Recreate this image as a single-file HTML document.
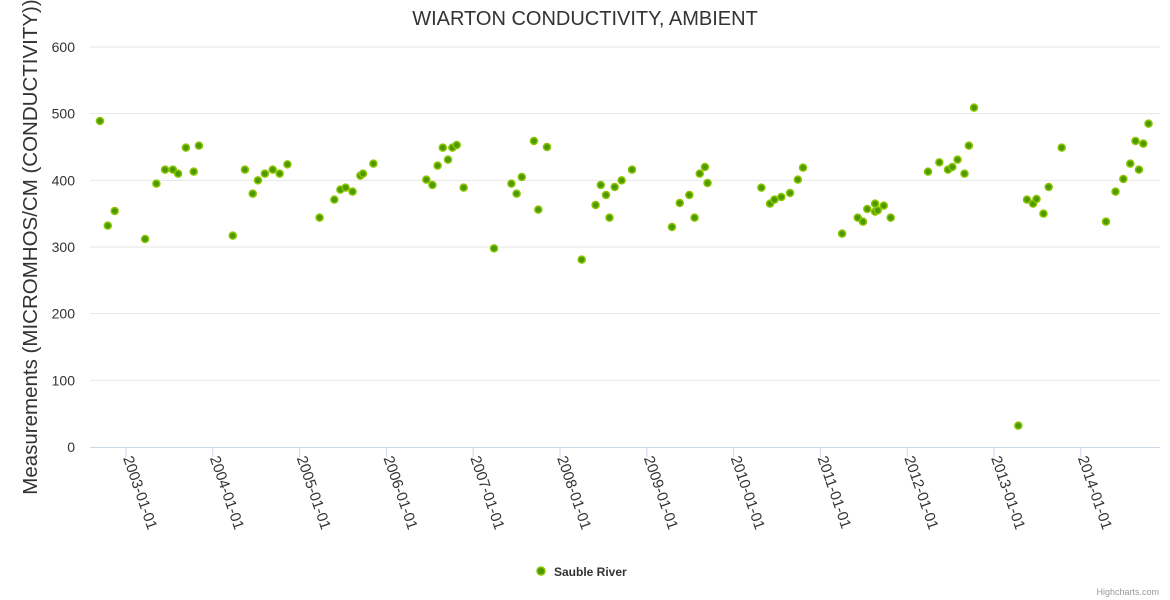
<!DOCTYPE html>
<html><head><meta charset="utf-8"><style>
body{margin:0;background:#fff;}
svg{display:block;font-family:"Liberation Sans",sans-serif;}
</style></head><body>
<svg id="chart" width="1170" height="600">
<rect width="1170" height="600" fill="#fff"/>
<text x="585" y="25" text-anchor="middle" font-size="20" fill="#333">WIARTON CONDUCTIVITY, AMBIENT</text>
<g id="grid"></g>
<g id="xaxis"></g>
<g id="yaxis"></g>
<text transform="translate(37,247) rotate(-90)" text-anchor="middle" font-size="20.5" fill="#333">Measurements (MICROMHOS/CM (CONDUCTIVITY))</text>
<g id="points"></g>
<g>
<circle cx="541" cy="571" r="4" fill="#4c9a00" stroke="#8cc400" stroke-width="1.5"/>
<text x="554" y="576" font-size="12" font-weight="bold" fill="#333">Sauble River</text>
</g>
<text x="1159" y="595" text-anchor="end" font-size="9" fill="#999">Highcharts.com</text>
</svg>
<script>
const yTicks=[0,100,200,300,400,500,600];
const xTickLabels=["2003-01-01","2004-01-01","2005-01-01","2006-01-01","2007-01-01","2008-01-01","2009-01-01","2010-01-01","2011-01-01","2012-01-01","2013-01-01","2014-01-01"];
const xTickYears=[2003,2004,2005,2006,2007,2008,2009,2010,2011,2012,2013,2014];
const dates=[2002.70,2002.79,2002.87,2003.22,2003.35,2003.45,2003.54,2003.60,2003.69,2003.78,2003.84,
2004.23,2004.37,2004.46,2004.52,2004.60,2004.69,2004.77,2004.86,
2005.23,2005.40,2005.47,2005.53,2005.61,2005.70,2005.73,2005.85,
2006.46,2006.53,2006.59,2006.65,2006.71,2006.76,2006.81,2006.89,
2007.24,2007.44,2007.50,2007.56,2007.70,2007.75,2007.85,
2008.25,2008.41,2008.47,2008.53,2008.57,2008.63,2008.71,2008.83,
2009.29,2009.38,2009.49,2009.55,2009.61,2009.67,2009.70,
2010.32,2010.42,2010.47,2010.55,2010.65,2010.74,2010.80,
2011.25,2011.43,2011.49,2011.54,2011.63,2011.63,2011.66,2011.73,2011.81,
2012.24,2012.37,2012.47,2012.52,2012.58,2012.66,2012.71,2012.77,
2013.28,2013.38,2013.45,2013.49,2013.57,2013.63,2013.78,
2014.29,2014.40,2014.49,2014.57,2014.63,2014.67,2014.72,2014.78];
const values=[489,332,354,312,395,416,416,410,449,413,452,
317,416,380,400,410,416,410,424,
344,371,386,389,383,407,410,425,
401,393,422,449,431,449,453,389,
298,395,380,405,459,356,450,
281,363,393,378,344,390,400,416,
330,366,378,344,410,420,396,
389,365,371,375,381,401,419,
320,344,338,357,365,353,355,362,344,
413,427,416,420,431,410,452,509,
32,371,365,372,350,390,449,
338,383,402,425,459,416,455,485];
const NS="http://www.w3.org/2000/svg";
const L=90,R=1160,T=47,B=447;
const xs=yr=>126+(yr-2003)*86.8;
const ys=v=>B-(v/600)*(B-T);
function mk(tag,attrs,parent){const e=document.createElementNS(NS,tag);for(const k in attrs)e.setAttribute(k,attrs[k]);parent.appendChild(e);return e;}
const grid=document.getElementById('grid'),ya=document.getElementById('yaxis'),xa=document.getElementById('xaxis'),pts=document.getElementById('points');
yTicks.forEach(v=>{
  if(v>0){const g=mk('line',{x1:L,x2:R,y1:ys(v),y2:ys(v),stroke:'#e6e6e6','stroke-width':1},grid);
  
  }
  const t=mk('text',{x:75,y:ys(v)+5,'text-anchor':'end','font-size':14,fill:'#333'},ya);
  t.textContent=v;
  
  
});
const ax=mk('line',{x1:L,x2:R,y1:B+0.5,y2:B+0.5,stroke:'#ccd6eb','stroke-width':1},xa);


xTickYears.forEach((yr,i)=>{
  const x=xs(yr);
  const tk=mk('line',{x1:x,x2:x,y1:B,y2:B+10,stroke:'#ccd6eb','stroke-width':1},xa);
  
  
  const t=mk('text',{transform:`translate(${x-3},${B+11}) rotate(71)`,'font-size':15,fill:'#333'},xa);
  t.textContent=xTickLabels[i];
  
  
});
dates.forEach((d,i)=>{
  const c=mk('circle',{cx:xs(d),cy:ys(values[i]),r:3.5,fill:'#4c9a00',stroke:'#8cc400','stroke-width':1.5},pts);
  
  
});
</script>
</body></html>
